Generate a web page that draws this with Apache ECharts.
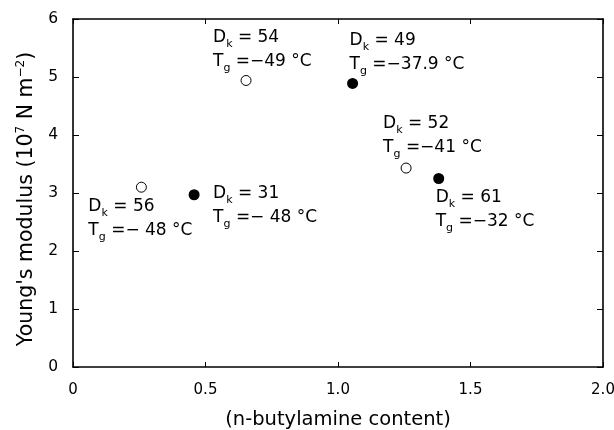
<!DOCTYPE html>
<html>
<head>
<meta charset="utf-8">
<script src="https://cdn.jsdelivr.net/npm/echarts@6/dist/echarts.min.js"></script>
<style>
  html, body { margin: 0; padding: 0; background: #fff; }
</style>
</head>
<body>
<div id="chart" style="width:614px;height:430px;"></div>
<script>
// n-butylamine content vs Young's modulus
var content = [0.653, 1.055, 1.257, 1.38, 0.258, 0.457];
var modulus = [4.94, 4.89, 3.43, 3.25, 3.1, 2.97];
var dkValues = ['54', '49', '52', '61', '56', '31'];
var tgValues = ['\u221249', '\u221237.9', '\u221241', '\u221232', '\u2212 48', '\u2212 48'];
var filled = [false, true, false, true, false, true];
var xTicks = ['0', '0.5', '1.0', '1.5', '2.0'];

// label block offsets from the marker centre (px)
var labelOffsets = [[-33, -55], [-3, -55], [-23, -56], [-3, 7], [-53, 7], [19, -13]];

var FONT = 'DejaVu Sans';
var chart = echarts.init(document.getElementById('chart'));

var points = [];
for (var i = 0; i < content.length; i++) {
  points.push({
    value: [content[i], modulus[i]],
    symbolSize: filled[i] ? 11 : 10,
    itemStyle: filled[i]
      ? { color: '#000', borderColor: '#000', borderWidth: 0, opacity: 1 }
      : { color: '#fff', borderColor: '#000', borderWidth: 1, opacity: 1 },
    label: {
      show: true,
      position: 'inside',
      align: 'left',
      verticalAlign: 'top',
      offset: labelOffsets[i],
      color: '#000',
      textBorderWidth: 0,
      formatter: '{m|D}{s|k}{m| = ' + dkValues[i] + '}\n{m|T}{s|g}{m| =' + tgValues[i] + ' \u00b0C}'
    }
  });
}

var rich = {
  m: { fontFamily: FONT, fontSize: 17, color: '#000', lineHeight: 24, textBorderWidth: 0 },
  s: { fontFamily: FONT, fontSize: 11, color: '#000', lineHeight: 10, verticalAlign: 'bottom', textBorderWidth: 0 }
};

var axisLineStyle = { color: '#000', width: 1.6 };

var option = {
  backgroundColor: '#fff',
  animation: false,
  grid: { left: 73, right: 11, top: 19, bottom: 63, outerBoundsMode: 'none', containLabel: false },
  xAxis: [{
    type: 'value',
    min: 0, max: 2, interval: 0.5,
    name: '(n-butylamine content)',
    nameLocation: 'middle',
    nameGap: 43,
    nameTextStyle: { fontFamily: FONT, fontSize: 19.5, color: '#000' },
    axisLine: { show: true, onZero: false, lineStyle: axisLineStyle },
    axisTick: { show: true, inside: true, length: 5, lineStyle: { color: '#000' } },
    axisLabel: {
      margin: 16, fontFamily: FONT, fontSize: 15, color: '#000',
      formatter: function (v) { return xTicks[Math.round(v / 0.5)]; }
    },
    splitLine: { show: false }
  }, {
    type: 'value',
    position: 'top',
    min: 0, max: 2, interval: 0.5,
    axisLine: { show: true, onZero: false, lineStyle: axisLineStyle },
    axisTick: { show: true, inside: true, length: 5, lineStyle: { color: '#000' } },
    axisLabel: { show: false },
    splitLine: { show: false }
  }],
  yAxis: [{
    type: 'value',
    min: 0, max: 6, interval: 1,
    name: '{t|Young\'s modulus (10}{p|7}{t| N m}{p|\u22122}{t|)}',
    nameLocation: 'middle',
    nameGap: 32,
    nameTextStyle: {
      padding: [0, 12, 0, 0],
      rich: {
        t: { fontFamily: FONT, fontSize: 20.5, color: '#000', lineHeight: 24 },
        p: { fontFamily: FONT, fontSize: 12, color: '#000', lineHeight: 12, verticalAlign: 'top' }
      }
    },
    axisLine: { show: true, onZero: false, lineStyle: axisLineStyle },
    axisTick: { show: true, inside: true, length: 6, lineStyle: { color: '#000' } },
    axisLabel: { margin: 15, fontFamily: FONT, fontSize: 15.5, color: '#000' },
    splitLine: { show: false }
  }, {
    type: 'value',
    position: 'right',
    min: 0, max: 6, interval: 1,
    axisLine: { show: true, onZero: false, lineStyle: axisLineStyle },
    axisTick: { show: true, inside: true, length: 6, lineStyle: { color: '#000' } },
    axisLabel: { show: false },
    splitLine: { show: false }
  }],
  series: [{
    type: 'scatter',
    symbol: 'circle',
    data: points,
    itemStyle: { opacity: 1 },
    label: { rich: rich },
    emphasis: { disabled: true }
  }]
};

chart.setOption(option);
</script>
</body>
</html>
